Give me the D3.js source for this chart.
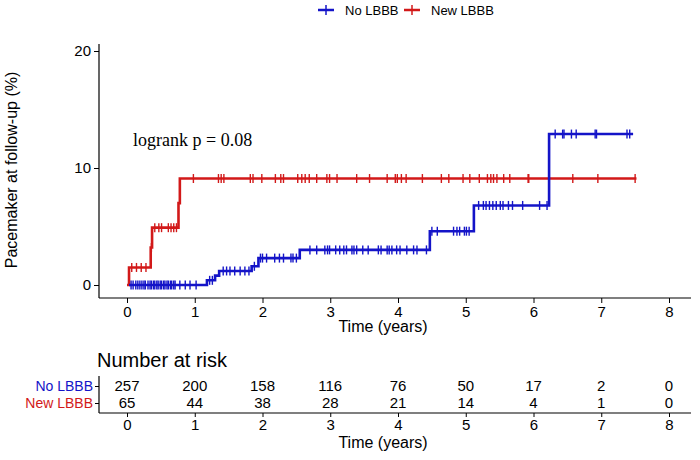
<!DOCTYPE html>
<html>
<head>
<meta charset="utf-8">
<script src="https://cdn.jsdelivr.net/npm/d3@7"></script>
<style>
  body { margin: 0; background: #fff; }
  text { font-family: "Liberation Sans", Arial, sans-serif; }
</style>
</head>
<body>
<script>
var groups = ['No LBBB', 'New LBBB'];
var colors = ['#1414c8', '#d21919'];

// step events: time (years), cumulative incidence (%)
var blueTimes  = [0.03, 1.18, 1.30, 1.36, 1.84, 1.94, 2.55, 4.47, 5.12, 6.23, 7.47];
var blueValues = [0,    0.4,  0.8,  1.2,  1.6,  2.3,  3.0,  4.6,  6.8,  12.9, 12.9];
var blueCensor = [0.06, 0.09, 0.13, 0.16, 0.19, 0.22, 0.25, 0.27, 0.31, 0.34, 0.36, 0.39, 0.41, 0.44,
  0.46, 0.49, 0.51, 0.54, 0.56, 0.59, 0.61, 0.64, 0.66, 0.69, 0.71, 0.78, 0.86, 0.93, 1.02,
  1.22, 1.26, 1.42, 1.47, 1.52, 1.59, 1.67, 1.74, 1.80, 1.88,
  1.97, 2.00, 2.06, 2.18, 2.25, 2.31, 2.42, 2.45, 2.50,
  2.70, 2.80, 2.92, 2.96, 2.99, 3.08, 3.14, 3.20, 3.24, 3.32, 3.35, 3.39, 3.48, 3.56, 3.71, 3.75,
  3.84, 3.87, 3.91, 3.98, 4.03, 4.13, 4.23, 4.28, 4.42,
  4.50, 4.58, 4.82, 4.87, 4.91, 4.98, 5.01, 5.05,
  5.19, 5.26, 5.30, 5.35, 5.40, 5.45, 5.51, 5.55, 5.63, 5.69, 5.84, 6.09, 6.20,
  6.32, 6.43, 6.45, 6.56, 6.63, 6.91, 6.93, 7.38, 7.42];

var redTimes  = [0, 0.03, 0.35, 0.37, 0.76, 0.78, 7.52];
var redValues = [0, 1.5,  3.2,  4.9,  7.0,  9.1,  9.1];
var redCensor = [0.07, 0.14, 0.21, 0.28, 0.36, 0.41, 0.47, 0.51, 0.61, 0.65, 0.69, 0.73,
  0.98, 1.35, 1.39, 1.43, 1.82, 1.86, 1.99, 2.19, 2.27, 2.31, 2.52, 2.58, 2.63,
  2.69, 2.80, 2.95, 2.99, 3.10, 3.39, 3.58, 3.84, 3.96, 3.99, 4.05, 4.12, 4.36, 4.64, 4.75,
  4.96, 5.06, 5.20, 5.32, 5.37, 5.41, 5.46, 5.56, 5.65, 5.92, 5.93, 6.23, 6.58, 6.95, 7.50];

var riskTimes = [0, 1, 2, 3, 4, 5, 6, 7, 8];
var riskBlue = [257, 200, 158, 116, 76, 50, 17, 2, 0];
var riskRed  = [65, 44, 38, 28, 21, 14, 4, 1, 0];
var yTicks = [0, 10, 20];

var w = 700, h = 460;
var svg = d3.select('body').append('svg').attr('width', w).attr('height', h);

var x = d3.scaleLinear().domain([0, 8]).range([127, 669]);
var y = d3.scaleLinear().domain([0, 20]).range([285, 51]);

// legend
var legend = svg.append('g');
[[318, 345], [404, 429]].forEach((p, i) => {
  legend.append('line').attr('x1', p[0]).attr('x2', p[0] + 16).attr('y1', 10).attr('y2', 10)
    .attr('stroke', colors[i]).attr('stroke-width', 2.5);
  legend.append('line').attr('x1', p[0] + 8).attr('x2', p[0] + 8).attr('y1', 5).attr('y2', 15)
    .attr('stroke', colors[i]).attr('stroke-width', 1.5);
  legend.append('text').attr('x', p[0] + 27).attr('y', 15).attr('font-size', 13)
    .attr('fill', '#000').text(groups[i]);
});

// axes
var xAxis = svg.append('g').attr('transform', 'translate(0,298)')
  .call(d3.axisBottom(x).tickValues(riskTimes).tickSize(5).tickPadding(3));
var yAxis = svg.append('g').attr('transform', 'translate(99,0)')
  .call(d3.axisLeft(y).tickValues(yTicks).tickSize(5).tickPadding(3));
[xAxis, yAxis].forEach(a => {
  a.select('.domain').remove();
  a.selectAll('text').attr('font-size', 15).attr('fill', '#000')
    .style('font-family', '"Liberation Sans", Arial, sans-serif');
  a.selectAll('line').attr('stroke', '#000').attr('stroke-width', 1);
});
svg.append('line').attr('x1', 99).attr('x2', 99).attr('y1', 44).attr('y2', 298)
  .attr('stroke', '#000').attr('stroke-width', 1.2);
svg.append('line').attr('x1', 99).attr('x2', 691).attr('y1', 298).attr('y2', 298)
  .attr('stroke', '#000').attr('stroke-width', 1.2);

svg.append('text').attr('x', 383).attr('y', 332).attr('text-anchor', 'middle')
  .attr('font-size', 16).text('Time (years)');
svg.append('text').attr('transform', 'translate(17,170) rotate(-90)')
  .attr('text-anchor', 'middle').attr('font-size', 16).text('Pacemaker at follow-up (%)');

svg.append('text').attr('x', 133).attr('y', 146).attr('font-size', 18)
  .style('font-family', '"Liberation Serif", "Times New Roman", serif')
  .text('logrank p = 0.08');

// curves
var stepLine = d3.line().x(d => x(d[0])).y(d => y(d[1])).curve(d3.curveStepAfter);

var drawCurve = (times, values, censor, color) => {
  var pts = times.map((t, i) => [t, values[i]]);
  svg.append('path').datum(pts).attr('d', stepLine)
    .attr('fill', 'none').attr('stroke', color).attr('stroke-width', 2.6);
  var valueAt = t => {
    var v = values[0];
    times.forEach((tt, i) => { if (tt <= t) v = values[i]; });
    return v;
  };
  svg.append('g').selectAll('line').data(censor).enter().append('line')
    .attr('x1', d => x(d)).attr('x2', d => x(d))
    .attr('y1', d => y(valueAt(d)) - 4.5).attr('y2', d => y(valueAt(d)) + 4.5)
    .attr('stroke', color).attr('stroke-width', 1.4);
};

drawCurve(redTimes, redValues, redCensor, colors[1]);
drawCurve(blueTimes, blueValues, blueCensor, colors[0]);

// risk table
svg.append('text').attr('x', 97).attr('y', 367).attr('font-size', 20).text('Number at risk');

var rowY = [386, 403];
var riskRows = [riskBlue, riskRed];
var ry = d3.scaleOrdinal().domain(groups).range(rowY);
var rAxis = svg.append('g').attr('transform', 'translate(99,0)')
  .call(d3.axisLeft(ry).tickSize(4).tickPadding(2));
rAxis.select('.domain').remove();
rAxis.selectAll('text').attr('font-size', 14)
  .style('font-family', '"Liberation Sans", Arial, sans-serif')
  .attr('fill', (d, i) => colors[i]);
rAxis.selectAll('line').attr('stroke', '#000');

riskRows.forEach((row, i) => {
  svg.append('g').selectAll('text').data(row).enter().append('text')
    .attr('x', (d, j) => x(riskTimes[j])).attr('y', rowY[i] + 5)
    .attr('text-anchor', 'middle').attr('font-size', 15).text(d => d);
});

svg.append('line').attr('x1', 99).attr('x2', 99).attr('y1', 376).attr('y2', 413)
  .attr('stroke', '#000').attr('stroke-width', 1.2);
var xAxis2 = svg.append('g').attr('transform', 'translate(0,413)')
  .call(d3.axisBottom(x).tickValues(riskTimes).tickSize(4).tickPadding(2));
xAxis2.select('.domain').remove();
xAxis2.selectAll('text').attr('font-size', 15).attr('fill', '#000')
  .style('font-family', '"Liberation Sans", Arial, sans-serif');
xAxis2.selectAll('line').attr('stroke', '#000');
svg.append('line').attr('x1', 99).attr('x2', 691).attr('y1', 413).attr('y2', 413)
  .attr('stroke', '#000').attr('stroke-width', 1.2);
svg.append('text').attr('x', 383).attr('y', 448).attr('text-anchor', 'middle')
  .attr('font-size', 16).text('Time (years)');
</script>
</body>
</html>
